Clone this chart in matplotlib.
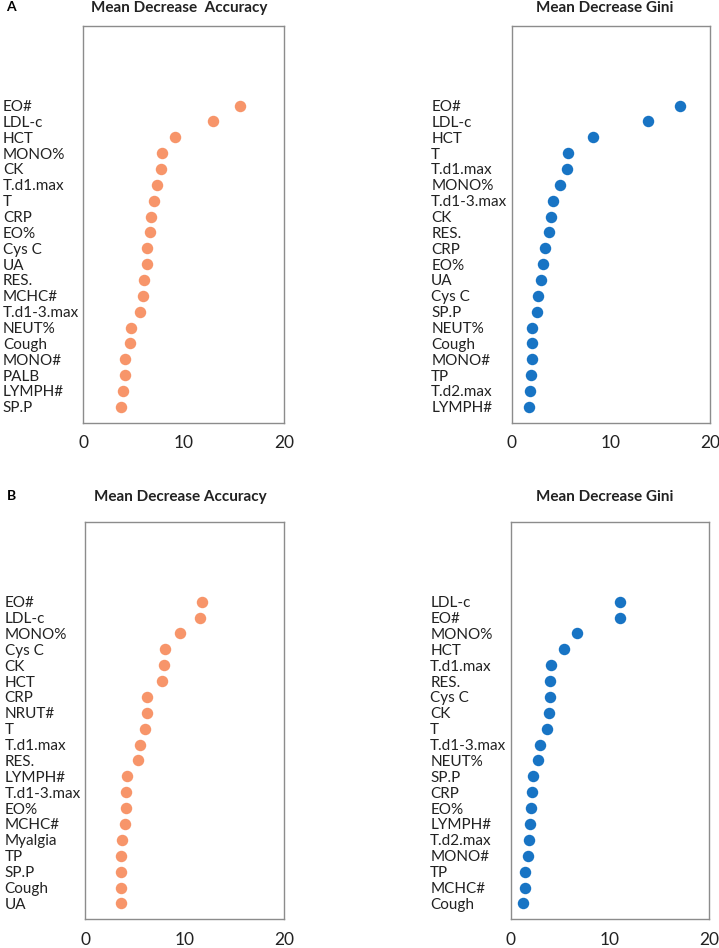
import matplotlib
matplotlib.use('Agg')
import matplotlib.pyplot as plt

plt.rcParams['font.family'] = ['Lato', 'DejaVu Sans']

# panel A - mean decrease accuracy
a_acc_labels = ['EO#', 'LDL-c', 'HCT', 'MONO%', 'CK', 'T.d1.max', 'T', 'CRP', 'EO%', 'Cys C',
                'UA', 'RES.', 'MCHC#', 'T.d1-3.max', 'NEUT%', 'Cough', 'MONO#', 'PALB', 'LYMPH#', 'SP.P']
a_acc_values = [15.6, 12.9, 9.1, 7.86, 7.73, 7.3, 7.06, 6.77, 6.6, 6.37,
                6.3, 6.07, 5.97, 5.67, 4.71, 4.61, 4.15, 4.11, 3.91, 3.71]

# panel A - mean decrease gini
a_gini_labels = ['EO#', 'LDL-c', 'HCT', 'T', 'T.d1.max', 'MONO%', 'T.d1-3.max', 'CK', 'RES.', 'CRP',
                 'EO%', 'UA', 'Cys C', 'SP.P', 'NEUT%', 'Cough', 'MONO#', 'TP', 'T.d2.max', 'LYMPH#']
a_gini_values = [16.95, 13.76, 8.15, 5.64, 5.57, 4.87, 4.16, 3.99, 3.76, 3.39,
                 3.12, 2.92, 2.62, 2.55, 2.08, 2.05, 2.05, 1.91, 1.85, 1.71]

# panel B - mean decrease accuracy
b_acc_labels = ['EO#', 'LDL-c', 'MONO%', 'Cys C', 'CK', 'HCT', 'CRP', 'NRUT#', 'T', 'T.d1.max',
                'RES.', 'LYMPH#', 'T.d1-3.max', 'EO%', 'MCHC#', 'Myalgia', 'TP', 'SP.P', 'Cough', 'UA']
b_acc_values = [11.73, 11.56, 9.51, 8.01, 7.87, 7.71, 6.23, 6.16, 6.0, 5.46,
                5.33, 4.19, 4.12, 4.09, 3.95, 3.72, 3.63, 3.62, 3.61, 3.58]

# panel B - mean decrease gini
b_gini_labels = ['LDL-c', 'EO#', 'MONO%', 'HCT', 'T.d1.max', 'RES.', 'Cys C', 'CK', 'T', 'T.d1-3.max',
                 'NEUT%', 'SP.P', 'CRP', 'EO%', 'LYMPH#', 'T.d2.max', 'MONO#', 'TP', 'MCHC#', 'Cough']
b_gini_values = [11.04, 10.97, 6.64, 5.4, 4.03, 3.99, 3.96, 3.83, 3.62, 2.92,
                 2.72, 2.21, 2.18, 2.01, 1.95, 1.81, 1.71, 1.44, 1.41, 1.24]

xticks = [0, 10, 20]

ORANGE = '#F7956A'
BLUE = '#1874C4'
W, H = 719, 948


def dot_panel(fig, rect, labels, values, color, title, title_xy):
    ax = fig.add_axes(rect)
    n = len(labels)
    ypos = list(range(n, 0, -1))
    ax.scatter(values, ypos, s=68, color=color, zorder=3, linewidths=0)
    ax.set_xlim(0, 20)
    ax.set_ylim(0, n + 5)
    ax.set_xticks(xticks)
    ax.set_xticklabels([str(t) for t in xticks], fontsize=12.5, color='#222222')
    ax.set_yticks(ypos)
    ax.set_yticklabels(labels, fontsize=11, color='#222222')
    for t in ax.get_yticklabels():
        t.set_ha('left')
    ax.tick_params(axis='y', length=0, pad=58)
    ax.tick_params(axis='x', length=0, pad=9)
    for sp in ax.spines.values():
        sp.set_color('#8c8c8c')
        sp.set_linewidth(1.0)
    fig.text(title_xy[0] / W, 1 - title_xy[1] / H, title, fontsize=11, fontweight='bold',
             ha='center', va='center', color='#222222')
    return ax


fig = plt.figure(figsize=(7.19, 9.48), dpi=100)

dot_panel(fig, [0.1159, 0.5541, 0.2796, 0.4182], a_acc_labels, a_acc_values, ORANGE,
          'Mean Decrease  Accuracy', (179, 8))
dot_panel(fig, [0.7117, 0.5541, 0.2762, 0.4182], a_gini_labels, a_gini_values, BLUE,
          'Mean Decrease Gini', (605, 8))
dot_panel(fig, [0.1186, 0.0303, 0.2768, 0.4188], b_acc_labels, b_acc_values, ORANGE,
          'Mean Decrease Accuracy', (180, 497))
dot_panel(fig, [0.7103, 0.0303, 0.2762, 0.4188], b_gini_labels, b_gini_values, BLUE,
          'Mean Decrease Gini', (605, 497))

fig.text(11 / W, 1 - 7 / H, 'A', fontsize=10, fontweight='bold', ha='center', va='center')
fig.text(11 / W, 1 - 496 / H, 'B', fontsize=10, fontweight='bold', ha='center', va='center')

fig.savefig('out.png', dpi=100)
